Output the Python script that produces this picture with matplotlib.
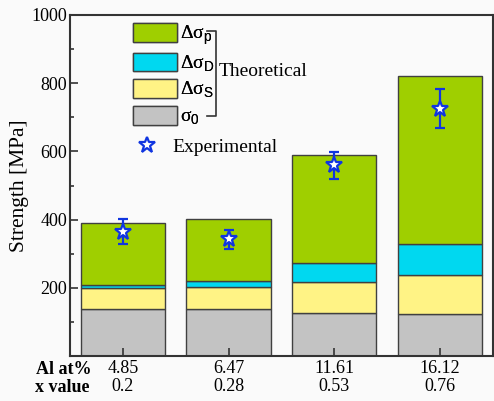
import matplotlib
matplotlib.use("Agg")
import matplotlib.pyplot as plt
from matplotlib.lines import Line2D
import numpy as np

plt.rcParams['font.family'] = ['Liberation Serif', 'DejaVu Serif']
plt.rcParams['mathtext.fontset'] = 'custom'
plt.rcParams['mathtext.sf'] = 'Liberation Sans'
plt.rcParams['mathtext.rm'] = 'Liberation Serif'

al_at = ['4.85', '6.47', '11.61', '16.12']
x_value = ['0.2', '0.28', '0.53', '0.76']
sigma0 = [137, 137, 125, 123]
d_sigma_s = [61, 66, 93, 116]
d_sigma_d = [10, 17, 55, 89]
d_sigma_p = [182, 183, 315, 492]
exp_strength = [364, 342, 559, 725]
exp_err = [37, 28, 40, 57]

c_gray = '#C3C3C3'
c_yellow = '#FFF385'
c_cyan = '#00D8F0'
c_green = '#9FCF00'
c_blue = '#1035E0'
edge = '#404040'

fig = plt.figure(figsize=(4.94, 4.01), dpi=100, facecolor='#FAFAFA')
ax = fig.add_axes([0.1417, 0.1122, 0.8557, 0.8504], facecolor='#FAFAFA')

x = np.arange(len(al_at))
w = 0.8
b0 = ax.bar(x, sigma0, w, color=c_gray, edgecolor=edge, linewidth=1)
bot = np.array(sigma0, dtype=float)
bs = ax.bar(x, d_sigma_s, w, bottom=bot, color=c_yellow, edgecolor=edge, linewidth=1)
bot += d_sigma_s
bd = ax.bar(x, d_sigma_d, w, bottom=bot, color=c_cyan, edgecolor=edge, linewidth=1)
bot += d_sigma_d
bp = ax.bar(x, d_sigma_p, w, bottom=bot, color=c_green, edgecolor=edge, linewidth=1)

ax.errorbar(x, exp_strength, yerr=exp_err, fmt='*', ms=12, mfc='white',
            mec=c_blue, mew=1.6, ecolor=c_blue, elinewidth=1.6, capsize=3.5,
            capthick=1.6, zorder=5)

ax.set_xlim(-0.5, 3.5)
ax.set_ylim(0, 1000)
ax.set_yticks([200, 400, 600, 800, 1000])
ax.set_yticks([100, 300, 500, 700, 900], minor=True)
ax.set_xticks(x)
ax.set_xticklabels([f'{a}\n{v}' for a, v in zip(al_at, x_value)], fontsize=13,
                   linespacing=1.1)
ax.tick_params(axis='both', which='major', direction='in', length=6, width=1.2,
               color='#333333', labelsize=13, pad=3)
ax.tick_params(axis='y', which='minor', direction='in', length=3, width=1.2,
               color='#333333')
ax.tick_params(axis='y', which='major', pad=2)
for s in ax.spines.values():
    s.set_linewidth(1.5)
    s.set_color('#333333')

ax.set_ylabel('Strength [MPa]', fontsize=15.5, labelpad=2)

def fx(px):
    return px / 494
def fy(py):
    return 1 - py / 401

fig.text(fx(92), fy(369), 'Al at%', fontsize=13, fontweight='bold',
         ha='right', va='center')
fig.text(fx(89), fy(388), 'x value', fontsize=13, fontweight='bold',
         ha='right', va='center')

handles = [bp, bd, bs, b0]
labels = ['Δσ$_\\mathsf{p}$', 'Δσ$_\\mathsf{D}$', 'Δσ$_\\mathsf{S}$', 'σ$_\\mathsf{0}$']
leg = ax.legend(handles, labels, loc='upper left', bbox_to_anchor=(0.149, 0.977),
                frameon=False, fontsize=14, borderpad=0, borderaxespad=0,
                handlelength=2.25, handleheight=1.1, handletextpad=0.15,
                labelspacing=0.28)
ax.add_artist(leg)
star_h = Line2D([], [], ls='none', marker='*', ms=12, mfc='white', mec=c_blue, mew=1.6)
leg2 = fig.legend([star_h], ['Experimental'], loc='center left',
                  bbox_to_anchor=(fx(136), fy(147)), frameon=False, fontsize=14,
                  borderpad=0, borderaxespad=0, handlelength=1.13,
                  handletextpad=0.75)

fig.add_artist(Line2D([fx(207), fx(216), fx(216), fx(207)],
                      [fy(31), fy(31), fy(116), fy(116)], color='#333333', lw=1.2))
fig.text(fx(219), fy(72), 'Theoretical', fontsize=14, ha='left', va='center')

fig.savefig('out.png', dpi=100, facecolor=fig.get_facecolor())
